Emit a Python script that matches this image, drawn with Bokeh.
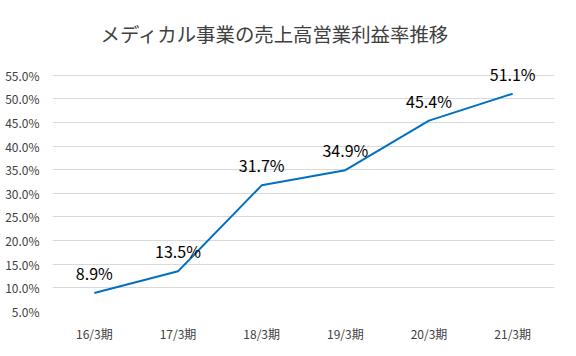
from bokeh.plotting import figure
from bokeh.models import Range1d, FactorRange, NumeralTickFormatter, FixedTicker, ColumnDataSource, Label
from bokeh.core.properties import value
from bokeh.embed import file_html
from bokeh.resources import INLINE

categories = ["16/3期", "17/3期", "18/3期", "19/3期", "20/3期", "21/3期"]
margin_values = [0.089, 0.135, 0.317, 0.349, 0.454, 0.511]
label_texts = ["8.9%", "13.5%", "31.7%", "34.9%", "45.4%", "51.1%"]
y_ticks = [0.05, 0.10, 0.15, 0.20, 0.25, 0.30, 0.35, 0.40, 0.45, 0.50, 0.55]
title_text = "メディカル事業の売上高営業利益率推移"

FONT = "Noto Sans CJK JP"

# frame spans full canvas height above the axis; the extra range above 55% holds the title
p = figure(width=560, height=344, output_backend="svg", toolbar_location=None,
           x_range=FactorRange(*categories, range_padding=0),
           y_range=Range1d(0.05, 0.7082))
p.title.visible = False
p.min_border_left = 52
p.min_border_right = 6
p.min_border_top = 0
p.min_border_bottom = 32
p.outline_line_color = None
p.background_fill_color = "white"
p.border_fill_color = "white"

# screen units are measured from the frame's bottom-left corner
title = Label(x=48, y=278.5, x_units="screen", y_units="screen", text=title_text,
              text_font=FONT, text_font_size="19.4px", text_color="#404040",
              text_align="left", text_baseline="middle")
p.add_layout(title)

src = ColumnDataSource(dict(x=categories, y=margin_values, t=label_texts))
p.line("x", "y", source=src, line_color="#0070C0", line_width=2)
p.text("x", "y", text="t", source=src, y_offset=-20, text_align="center",
       text_baseline="alphabetic", text_font=value(FONT), text_font_size="16px",
       text_color="#000000")

p.yaxis.ticker = FixedTicker(ticks=y_ticks)
p.yaxis.formatter = NumeralTickFormatter(format="0.0%")
for ax in (p.xaxis[0], p.yaxis[0]):
    ax.axis_line_color = None
    ax.major_tick_line_color = None
    ax.minor_tick_line_color = None
    ax.major_tick_out = 0
    ax.major_tick_in = 0
    ax.minor_tick_out = 0
    ax.major_label_text_font = FONT
    ax.major_label_text_font_size = "12px"
    ax.major_label_text_color = "#404040"
p.yaxis.major_label_standoff = 13
p.xaxis.major_label_standoff = 13

p.xgrid.grid_line_color = None
p.ygrid.grid_line_color = "#D9D9D9"
p.ygrid.grid_line_width = 1

open("out.html", "w").write(file_html(p, INLINE))
